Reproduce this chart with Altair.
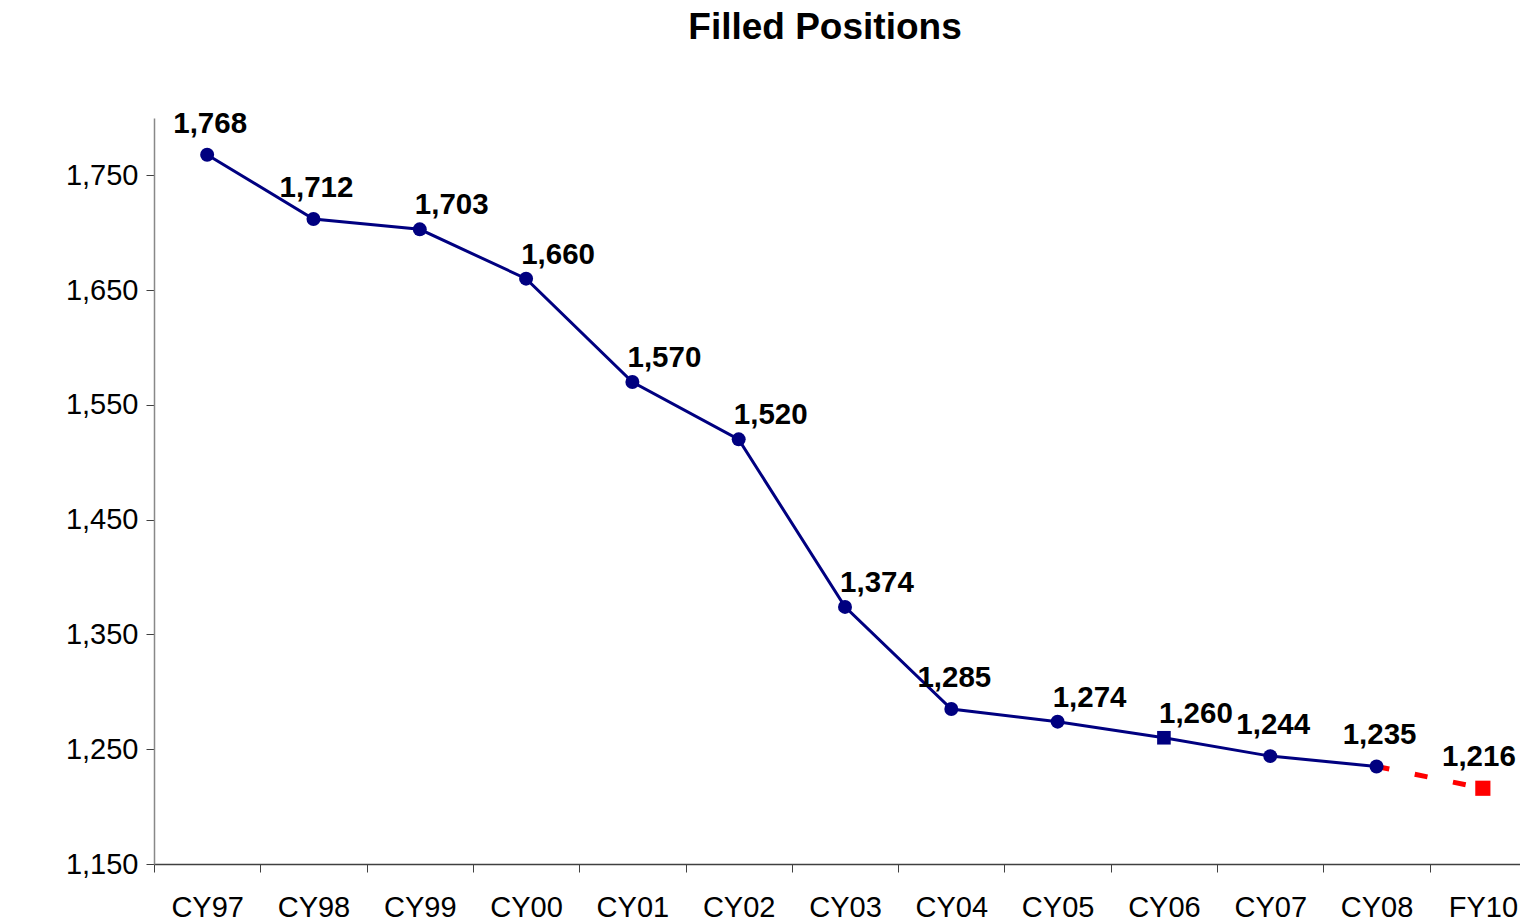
import altair as alt
import pandas as pd

# ---- data ----
categories = ["CY97", "CY98", "CY99", "CY00", "CY01", "CY02", "CY03",
              "CY04", "CY05", "CY06", "CY07", "CY08", "FY10"]
actual_values = [1768, 1712, 1703, 1660, 1570, 1520, 1374,
                 1285, 1274, 1260, 1244, 1235]
forecast_categories = ["CY08", "FY10"]
forecast_values = [1235, 1216]
square_markers = ["CY06"]
y_ticks = [1150, 1250, 1350, 1450, 1550, 1650, 1750]

# label groups (style: where the label sits relative to its marker)
right_labels = ["CY99", "CY00", "CY01", "CY02", "CY03", "CY05", "CY06"]
edge_labels = ["FY10"]

actual = pd.DataFrame({"cat": categories[:len(actual_values)], "value": actual_values})
actual["marker"] = ["square" if c in square_markers else "circle" for c in actual["cat"]]
forecast = pd.DataFrame({"cat": forecast_categories, "value": forecast_values})
labels = pd.DataFrame({"cat": categories,
                       "value": actual_values + forecast_values[1:]})
labels["grp"] = ["right" if c in right_labels else ("edge" if c in edge_labels else "top")
                 for c in labels["cat"]]

FONT = "Liberation Sans"
NAVY = "#000080"
RED = "#FF0000"

x_enc = alt.X("cat:N", sort=categories, title=None,
              scale=alt.Scale(type="band", paddingInner=0, paddingOuter=0,
                              domain=categories, range=[0, 1382]),
              axis=alt.Axis(tickBand="extent", labelAngle=0, labelFont=FONT,
                            labelFontSize=29, labelColor="black", labelPadding=21,
                            tickSize=8, tickColor="#404040", domainColor="#404040",
                            ticks=True, grid=False))
y_enc = alt.Y("value:Q", title=None,
              scale=alt.Scale(domain=[1150, 1800], nice=False, zero=False),
              axis=alt.Axis(values=y_ticks, format=",d", labelFont=FONT,
                            labelFontSize=29, labelColor="black", labelPadding=8,
                            tickSize=8, tickColor="#404040", domainColor="#888888",
                            grid=False))

base_a = alt.Chart(actual)
base_f = alt.Chart(forecast)

forecast_line = base_f.mark_line(color=RED, strokeWidth=5, strokeDash=[13, 26]).encode(
    x=x_enc, y=y_enc)
main_line = base_a.mark_line(color=NAVY, strokeWidth=3).encode(x=x_enc, y=y_enc)
circle_points = base_a.transform_filter(alt.datum.marker == "circle").mark_point(
    filled=True, opacity=1, color=NAVY, shape="circle", size=195).encode(x=x_enc, y=y_enc)
square_points = base_a.transform_filter(alt.datum.marker == "square").mark_point(
    filled=True, opacity=1, color=NAVY, shape="square", size=185).encode(x=x_enc, y=y_enc)
fc_point = base_f.transform_filter(alt.datum.cat == "FY10").mark_point(
    filled=True, opacity=1, color=RED, shape="square", size=230).encode(x=x_enc, y=y_enc)

lab_base = alt.Chart(labels)
text_style = dict(font=FONT, fontSize=29.5, fontWeight="bold", color="black",
                  baseline="alphabetic")
lab_right = lab_base.transform_filter(alt.datum.grp == "right").mark_text(
    align="center", dx=32, dy=-15, **text_style).encode(
    x=x_enc, y=y_enc, text=alt.Text("value:Q", format=",d"))
lab_top = lab_base.transform_filter(alt.datum.grp == "top").mark_text(
    align="center", dx=3, dy=-22, **text_style).encode(
    x=x_enc, y=y_enc, text=alt.Text("value:Q", format=",d"))
lab_edge = lab_base.transform_filter(alt.datum.grp == "edge").mark_text(
    align="right", dx=33, dy=-22, **text_style).encode(
    x=x_enc, y=y_enc, text=alt.Text("value:Q", format=",d"))

chart = alt.layer(forecast_line, main_line, circle_points, square_points, fc_point,
                  lab_right, lab_top, lab_edge).properties(
    width=1366, height=746,
    autosize=alt.AutoSizeParams(type="none"),
    padding={"left": 146, "top": 110, "right": 0, "bottom": 58},
    title=alt.TitleParams("Filled Positions", font=FONT, fontSize=37, fontWeight="bold",
                          color="black", anchor="middle", dx=-12, offset=62),
).configure_view(stroke=None).configure_axis(domainWidth=1.5)

chart.save("out.html", embed_options={"renderer": "svg", "actions": False})
